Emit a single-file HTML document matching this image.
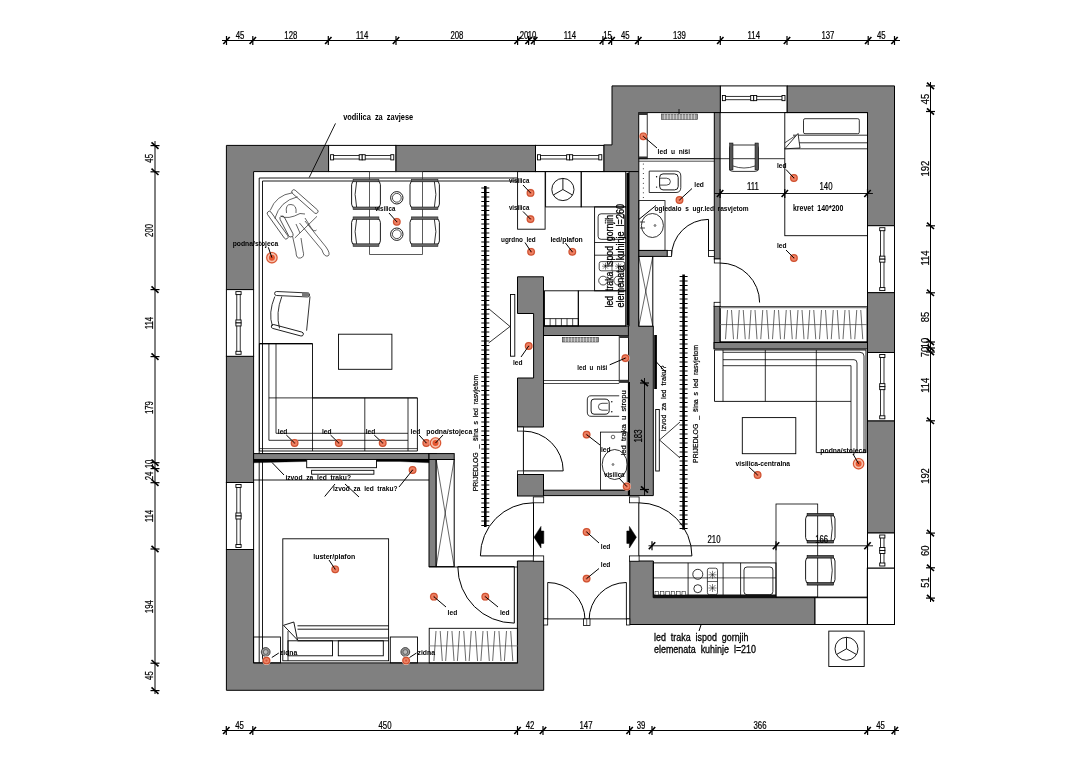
<!DOCTYPE html>
<html><head><meta charset="utf-8"><title>plan</title>
<style>
html,body{margin:0;padding:0;background:#fff;}
svg{display:block;will-change:transform;}
text{font-family:"Liberation Sans",sans-serif;}
.dm{fill:#000;stroke:#000;stroke-width:0.22;}
</style></head><body>
<svg width="1080" height="763" viewBox="0 0 1080 763">
<rect x="0" y="0" width="1080" height="763" fill="#fff"/>
<line x1="222" y1="40.5" x2="900" y2="40.5" stroke="#000" stroke-width="1.0" />
<line x1="223.3" y1="44" x2="229.7" y2="37" stroke="#000" stroke-width="1.6" />
<line x1="226.5" y1="36" x2="226.5" y2="45" stroke="#000" stroke-width="1.2" />
<line x1="249.6" y1="44" x2="256" y2="37" stroke="#000" stroke-width="1.6" />
<line x1="252.8" y1="36" x2="252.8" y2="45" stroke="#000" stroke-width="1.2" />
<line x1="325.1" y1="44" x2="331.5" y2="37" stroke="#000" stroke-width="1.6" />
<line x1="328.3" y1="36" x2="328.3" y2="45" stroke="#000" stroke-width="1.2" />
<line x1="392.8" y1="44" x2="399.2" y2="37" stroke="#000" stroke-width="1.6" />
<line x1="396" y1="36" x2="396" y2="45" stroke="#000" stroke-width="1.2" />
<line x1="514.4" y1="44" x2="520.8" y2="37" stroke="#000" stroke-width="1.6" />
<line x1="517.6" y1="36" x2="517.6" y2="45" stroke="#000" stroke-width="1.2" />
<line x1="525.4" y1="44" x2="531.8" y2="37" stroke="#000" stroke-width="1.6" />
<line x1="528.6" y1="36" x2="528.6" y2="45" stroke="#000" stroke-width="1.2" />
<line x1="531" y1="44" x2="537.4" y2="37" stroke="#000" stroke-width="1.6" />
<line x1="534.2" y1="36" x2="534.2" y2="45" stroke="#000" stroke-width="1.2" />
<line x1="599.7" y1="44" x2="606.1" y2="37" stroke="#000" stroke-width="1.6" />
<line x1="602.9" y1="36" x2="602.9" y2="45" stroke="#000" stroke-width="1.2" />
<line x1="608.4" y1="44" x2="614.8" y2="37" stroke="#000" stroke-width="1.6" />
<line x1="611.6" y1="36" x2="611.6" y2="45" stroke="#000" stroke-width="1.2" />
<line x1="635.1" y1="44" x2="641.5" y2="37" stroke="#000" stroke-width="1.6" />
<line x1="638.3" y1="36" x2="638.3" y2="45" stroke="#000" stroke-width="1.2" />
<line x1="717.1" y1="44" x2="723.5" y2="37" stroke="#000" stroke-width="1.6" />
<line x1="720.3" y1="36" x2="720.3" y2="45" stroke="#000" stroke-width="1.2" />
<line x1="783.8" y1="44" x2="790.2" y2="37" stroke="#000" stroke-width="1.6" />
<line x1="787" y1="36" x2="787" y2="45" stroke="#000" stroke-width="1.2" />
<line x1="865" y1="44" x2="871.4" y2="37" stroke="#000" stroke-width="1.6" />
<line x1="868.2" y1="36" x2="868.2" y2="45" stroke="#000" stroke-width="1.2" />
<line x1="891.3" y1="44" x2="897.7" y2="37" stroke="#000" stroke-width="1.6" />
<line x1="894.5" y1="36" x2="894.5" y2="45" stroke="#000" stroke-width="1.2" />
<text transform="translate(240,38.8) scale(0.78,1)" font-size="10" text-anchor="middle" font-weight="normal" fill="#000" class="dm">45</text>
<text transform="translate(290.8,38.8) scale(0.78,1)" font-size="10" text-anchor="middle" font-weight="normal" fill="#000" class="dm">128</text>
<text transform="translate(362.1,38.8) scale(0.78,1)" font-size="10" text-anchor="middle" font-weight="normal" fill="#000" class="dm">114</text>
<text transform="translate(456.9,38.8) scale(0.78,1)" font-size="10" text-anchor="middle" font-weight="normal" fill="#000" class="dm">208</text>
<text transform="translate(524,38.8) scale(0.78,1)" font-size="10" text-anchor="middle" font-weight="normal" fill="#000" class="dm">20</text>
<text transform="translate(532,38.8) scale(0.78,1)" font-size="10" text-anchor="middle" font-weight="normal" fill="#000" class="dm">10</text>
<text transform="translate(570,38.8) scale(0.78,1)" font-size="10" text-anchor="middle" font-weight="normal" fill="#000" class="dm">114</text>
<text transform="translate(607.5,38.8) scale(0.78,1)" font-size="10" text-anchor="middle" font-weight="normal" fill="#000" class="dm">15</text>
<text transform="translate(625.3,38.8) scale(0.78,1)" font-size="10" text-anchor="middle" font-weight="normal" fill="#000" class="dm">45</text>
<text transform="translate(679.4,38.8) scale(0.78,1)" font-size="10" text-anchor="middle" font-weight="normal" fill="#000" class="dm">139</text>
<text transform="translate(753.8,38.8) scale(0.78,1)" font-size="10" text-anchor="middle" font-weight="normal" fill="#000" class="dm">114</text>
<text transform="translate(827.9,38.8) scale(0.78,1)" font-size="10" text-anchor="middle" font-weight="normal" fill="#000" class="dm">137</text>
<text transform="translate(881.3,38.8) scale(0.78,1)" font-size="10" text-anchor="middle" font-weight="normal" fill="#000" class="dm">45</text>
<line x1="222" y1="730.5" x2="899" y2="730.5" stroke="#000" stroke-width="1.0" />
<line x1="223.1" y1="734" x2="229.5" y2="727" stroke="#000" stroke-width="1.6" />
<line x1="226.3" y1="726" x2="226.3" y2="735" stroke="#000" stroke-width="1.2" />
<line x1="249.6" y1="734" x2="256" y2="727" stroke="#000" stroke-width="1.6" />
<line x1="252.8" y1="726" x2="252.8" y2="735" stroke="#000" stroke-width="1.2" />
<line x1="514.3" y1="734" x2="520.7" y2="727" stroke="#000" stroke-width="1.6" />
<line x1="517.5" y1="726" x2="517.5" y2="735" stroke="#000" stroke-width="1.2" />
<line x1="539.8" y1="734" x2="546.2" y2="727" stroke="#000" stroke-width="1.6" />
<line x1="543" y1="726" x2="543" y2="735" stroke="#000" stroke-width="1.2" />
<line x1="626.4" y1="734" x2="632.8" y2="727" stroke="#000" stroke-width="1.6" />
<line x1="629.6" y1="726" x2="629.6" y2="735" stroke="#000" stroke-width="1.2" />
<line x1="648.8" y1="734" x2="655.2" y2="727" stroke="#000" stroke-width="1.6" />
<line x1="652" y1="726" x2="652" y2="735" stroke="#000" stroke-width="1.2" />
<line x1="864.4" y1="734" x2="870.8" y2="727" stroke="#000" stroke-width="1.6" />
<line x1="867.6" y1="726" x2="867.6" y2="735" stroke="#000" stroke-width="1.2" />
<line x1="891.6" y1="734" x2="898" y2="727" stroke="#000" stroke-width="1.6" />
<line x1="894.8" y1="726" x2="894.8" y2="735" stroke="#000" stroke-width="1.2" />
<text transform="translate(239.5,728.6) scale(0.78,1)" font-size="10" text-anchor="middle" font-weight="normal" fill="#000" class="dm">45</text>
<text transform="translate(385,728.6) scale(0.78,1)" font-size="10" text-anchor="middle" font-weight="normal" fill="#000" class="dm">450</text>
<text transform="translate(530,728.6) scale(0.78,1)" font-size="10" text-anchor="middle" font-weight="normal" fill="#000" class="dm">42</text>
<text transform="translate(586,728.6) scale(0.78,1)" font-size="10" text-anchor="middle" font-weight="normal" fill="#000" class="dm">147</text>
<text transform="translate(641,728.6) scale(0.78,1)" font-size="10" text-anchor="middle" font-weight="normal" fill="#000" class="dm">39</text>
<text transform="translate(760,728.6) scale(0.78,1)" font-size="10" text-anchor="middle" font-weight="normal" fill="#000" class="dm">366</text>
<text transform="translate(880.5,728.6) scale(0.78,1)" font-size="10" text-anchor="middle" font-weight="normal" fill="#000" class="dm">45</text>
<line x1="155" y1="141" x2="155" y2="694" stroke="#000" stroke-width="1.0" />
<line x1="151.5" y1="142.4" x2="158.5" y2="148.8" stroke="#000" stroke-width="1.6" />
<line x1="150.5" y1="145.6" x2="159.5" y2="145.6" stroke="#000" stroke-width="1.2" />
<line x1="151.5" y1="168.6" x2="158.5" y2="175" stroke="#000" stroke-width="1.6" />
<line x1="150.5" y1="171.8" x2="159.5" y2="171.8" stroke="#000" stroke-width="1.2" />
<line x1="151.5" y1="286.4" x2="158.5" y2="292.8" stroke="#000" stroke-width="1.6" />
<line x1="150.5" y1="289.6" x2="159.5" y2="289.6" stroke="#000" stroke-width="1.2" />
<line x1="151.5" y1="353.4" x2="158.5" y2="359.8" stroke="#000" stroke-width="1.6" />
<line x1="150.5" y1="356.6" x2="159.5" y2="356.6" stroke="#000" stroke-width="1.2" />
<line x1="151.5" y1="459.5" x2="158.5" y2="465.9" stroke="#000" stroke-width="1.6" />
<line x1="150.5" y1="462.7" x2="159.5" y2="462.7" stroke="#000" stroke-width="1.2" />
<line x1="151.5" y1="465.4" x2="158.5" y2="471.8" stroke="#000" stroke-width="1.6" />
<line x1="150.5" y1="468.6" x2="159.5" y2="468.6" stroke="#000" stroke-width="1.2" />
<line x1="151.5" y1="479.5" x2="158.5" y2="485.9" stroke="#000" stroke-width="1.6" />
<line x1="150.5" y1="482.7" x2="159.5" y2="482.7" stroke="#000" stroke-width="1.2" />
<line x1="151.5" y1="545.8" x2="158.5" y2="552.2" stroke="#000" stroke-width="1.6" />
<line x1="150.5" y1="549" x2="159.5" y2="549" stroke="#000" stroke-width="1.2" />
<line x1="151.5" y1="660" x2="158.5" y2="666.4" stroke="#000" stroke-width="1.6" />
<line x1="150.5" y1="663.2" x2="159.5" y2="663.2" stroke="#000" stroke-width="1.2" />
<line x1="151.5" y1="687.4" x2="158.5" y2="693.8" stroke="#000" stroke-width="1.6" />
<line x1="150.5" y1="690.6" x2="159.5" y2="690.6" stroke="#000" stroke-width="1.2" />
<text transform="translate(152.7,158.3) rotate(-90) scale(0.78,1)" font-size="10" text-anchor="middle" font-weight="normal" fill="#000" class="dm">45</text>
<text transform="translate(152.7,230.4) rotate(-90) scale(0.78,1)" font-size="10" text-anchor="middle" font-weight="normal" fill="#000" class="dm">200</text>
<text transform="translate(152.7,323) rotate(-90) scale(0.78,1)" font-size="10" text-anchor="middle" font-weight="normal" fill="#000" class="dm">114</text>
<text transform="translate(152.7,407.6) rotate(-90) scale(0.78,1)" font-size="10" text-anchor="middle" font-weight="normal" fill="#000" class="dm">179</text>
<text transform="translate(152.7,476) rotate(-90) scale(0.78,1)" font-size="10" text-anchor="middle" font-weight="normal" fill="#000" class="dm">24</text>
<text transform="translate(152.7,464) rotate(-90) scale(0.78,1)" font-size="10" text-anchor="middle" font-weight="normal" fill="#000" class="dm">10</text>
<text transform="translate(152.7,516) rotate(-90) scale(0.78,1)" font-size="10" text-anchor="middle" font-weight="normal" fill="#000" class="dm">114</text>
<text transform="translate(152.7,606.7) rotate(-90) scale(0.78,1)" font-size="10" text-anchor="middle" font-weight="normal" fill="#000" class="dm">194</text>
<text transform="translate(152.7,675.6) rotate(-90) scale(0.78,1)" font-size="10" text-anchor="middle" font-weight="normal" fill="#000" class="dm">45</text>
<line x1="930.5" y1="82" x2="930.5" y2="602" stroke="#000" stroke-width="1.0" />
<line x1="927" y1="82.7" x2="934" y2="89.1" stroke="#000" stroke-width="1.6" />
<line x1="926" y1="85.9" x2="935" y2="85.9" stroke="#000" stroke-width="1.2" />
<line x1="927" y1="108.3" x2="934" y2="114.7" stroke="#000" stroke-width="1.6" />
<line x1="926" y1="111.5" x2="935" y2="111.5" stroke="#000" stroke-width="1.2" />
<line x1="927" y1="222.6" x2="934" y2="229" stroke="#000" stroke-width="1.6" />
<line x1="926" y1="225.8" x2="935" y2="225.8" stroke="#000" stroke-width="1.2" />
<line x1="927" y1="289.6" x2="934" y2="296" stroke="#000" stroke-width="1.6" />
<line x1="926" y1="292.8" x2="935" y2="292.8" stroke="#000" stroke-width="1.2" />
<line x1="927" y1="338.8" x2="934" y2="345.2" stroke="#000" stroke-width="1.6" />
<line x1="926" y1="342" x2="935" y2="342" stroke="#000" stroke-width="1.2" />
<line x1="927" y1="344.8" x2="934" y2="351.2" stroke="#000" stroke-width="1.6" />
<line x1="926" y1="348" x2="935" y2="348" stroke="#000" stroke-width="1.2" />
<line x1="927" y1="348.8" x2="934" y2="355.2" stroke="#000" stroke-width="1.6" />
<line x1="926" y1="352" x2="935" y2="352" stroke="#000" stroke-width="1.2" />
<line x1="927" y1="417.6" x2="934" y2="424" stroke="#000" stroke-width="1.6" />
<line x1="926" y1="420.8" x2="935" y2="420.8" stroke="#000" stroke-width="1.2" />
<line x1="927" y1="529.9" x2="934" y2="536.3" stroke="#000" stroke-width="1.6" />
<line x1="926" y1="533.1" x2="935" y2="533.1" stroke="#000" stroke-width="1.2" />
<line x1="927" y1="564.6" x2="934" y2="571" stroke="#000" stroke-width="1.6" />
<line x1="926" y1="567.8" x2="935" y2="567.8" stroke="#000" stroke-width="1.2" />
<line x1="927" y1="594.9" x2="934" y2="601.3" stroke="#000" stroke-width="1.6" />
<line x1="926" y1="598.1" x2="935" y2="598.1" stroke="#000" stroke-width="1.2" />
<text transform="translate(929,98.9) rotate(-90) scale(0.8,1)" font-size="11.8" text-anchor="middle" font-weight="normal" fill="#000" class="dm">45</text>
<text transform="translate(929,168.7) rotate(-90) scale(0.8,1)" font-size="11.8" text-anchor="middle" font-weight="normal" fill="#000" class="dm">192</text>
<text transform="translate(929,258) rotate(-90) scale(0.8,1)" font-size="11.8" text-anchor="middle" font-weight="normal" fill="#000" class="dm">114</text>
<text transform="translate(929,317) rotate(-90) scale(0.8,1)" font-size="11.8" text-anchor="middle" font-weight="normal" fill="#000" class="dm">85</text>
<text transform="translate(929,352) rotate(-90) scale(0.8,1)" font-size="11.8" text-anchor="middle" font-weight="normal" fill="#000" class="dm">70</text>
<text transform="translate(929,343) rotate(-90) scale(0.8,1)" font-size="11.8" text-anchor="middle" font-weight="normal" fill="#000" class="dm">10</text>
<text transform="translate(929,385.3) rotate(-90) scale(0.8,1)" font-size="11.8" text-anchor="middle" font-weight="normal" fill="#000" class="dm">114</text>
<text transform="translate(929,476) rotate(-90) scale(0.8,1)" font-size="11.8" text-anchor="middle" font-weight="normal" fill="#000" class="dm">192</text>
<text transform="translate(929,550.8) rotate(-90) scale(0.8,1)" font-size="11.8" text-anchor="middle" font-weight="normal" fill="#000" class="dm">60</text>
<text transform="translate(929,582.4) rotate(-90) scale(0.8,1)" font-size="11.8" text-anchor="middle" font-weight="normal" fill="#000" class="dm">51</text>
<polygon points="226.4,145.4 328.6,145.4 328.6,171.6 253.6,171.6 253.6,289.6 226.4,289.6" fill="#808080" stroke="#000" stroke-width="1.0"/>
<rect x="226.4" y="356.3" width="27.2" height="126.2" fill="#808080" stroke="#000" stroke-width="1.0" />
<polygon points="226.4,549.5 253.6,549.5 253.6,662.9 517.4,662.9 517.4,561 543.7,561 543.7,690.3 226.4,690.3" fill="#808080" stroke="#000" stroke-width="1.0"/>
<rect x="395.8" y="145.4" width="139.7" height="26.2" fill="#808080" stroke="#000" stroke-width="1.0" />
<polygon points="603.8,144.9 612,144.9 612,85.9 720.4,85.9 720.4,112.6 638.8,112.6 638.8,171.6 603.8,171.6" fill="#808080" stroke="#000" stroke-width="1.0"/>
<polygon points="787,85.9 894.5,85.9 894.5,225.7 867.5,225.7 867.5,112.6 787,112.6" fill="#808080" stroke="#000" stroke-width="1.0"/>
<rect x="867.5" y="292.6" width="27" height="59.9" fill="#808080" stroke="#000" stroke-width="1.0" />
<rect x="867.5" y="420.8" width="27" height="112.2" fill="#808080" stroke="#000" stroke-width="1.0" />
<polygon points="629.8,561 653.4,561 653.4,597.7 815,597.7 815,624.5 629.8,624.5" fill="#808080" stroke="#000" stroke-width="1.0"/>
<rect x="815" y="597.7" width="79.5" height="26.8" fill="#fff" stroke="#000" stroke-width="1" />
<line x1="867.4" y1="568" x2="867.4" y2="624.5" stroke="#000" stroke-width="1.0" />
<rect x="867.4" y="568" width="27.1" height="56.5" fill="#fff" stroke="#000" stroke-width="1" />
<rect x="328.6" y="145.4" width="67.2" height="26.2" fill="#fff" stroke="#000" stroke-width="1" />
<rect x="331.6" y="155.6" width="61.2" height="3.4" fill="#fff" stroke="#000" stroke-width="0.8" />
<rect x="330.6" y="154.7" width="3" height="5.2" fill="#fff" stroke="#000" stroke-width="0.9" />
<rect x="359.2" y="154.7" width="3" height="5.2" fill="#fff" stroke="#000" stroke-width="0.9" />
<rect x="362.2" y="154.7" width="3" height="5.2" fill="#fff" stroke="#000" stroke-width="0.9" />
<rect x="390.8" y="154.7" width="3" height="5.2" fill="#fff" stroke="#000" stroke-width="0.9" />
<rect x="535.5" y="145.4" width="68.3" height="26.2" fill="#fff" stroke="#000" stroke-width="1" />
<rect x="538.5" y="155.6" width="62.3" height="3.4" fill="#fff" stroke="#000" stroke-width="0.8" />
<rect x="537.5" y="154.7" width="3" height="5.2" fill="#fff" stroke="#000" stroke-width="0.9" />
<rect x="566.65" y="154.7" width="3" height="5.2" fill="#fff" stroke="#000" stroke-width="0.9" />
<rect x="569.65" y="154.7" width="3" height="5.2" fill="#fff" stroke="#000" stroke-width="0.9" />
<rect x="598.8" y="154.7" width="3" height="5.2" fill="#fff" stroke="#000" stroke-width="0.9" />
<rect x="720.4" y="85.9" width="66.6" height="26.7" fill="#fff" stroke="#000" stroke-width="1" />
<rect x="723.4" y="96.35" width="60.6" height="3.4" fill="#fff" stroke="#000" stroke-width="0.8" />
<rect x="722.4" y="95.45" width="3" height="5.2" fill="#fff" stroke="#000" stroke-width="0.9" />
<rect x="750.7" y="95.45" width="3" height="5.2" fill="#fff" stroke="#000" stroke-width="0.9" />
<rect x="753.7" y="95.45" width="3" height="5.2" fill="#fff" stroke="#000" stroke-width="0.9" />
<rect x="782" y="95.45" width="3" height="5.2" fill="#fff" stroke="#000" stroke-width="0.9" />
<rect x="226.4" y="289.6" width="27.2" height="66.7" fill="#fff" stroke="#000" stroke-width="1" />
<rect x="236.8" y="292.6" width="3.4" height="60.7" fill="#fff" stroke="#000" stroke-width="0.8" />
<rect x="235.9" y="291.6" width="5.2" height="3" fill="#fff" stroke="#000" stroke-width="0.9" />
<rect x="235.9" y="319.95" width="5.2" height="3" fill="#fff" stroke="#000" stroke-width="0.9" />
<rect x="235.9" y="322.95" width="5.2" height="3" fill="#fff" stroke="#000" stroke-width="0.9" />
<rect x="235.9" y="351.3" width="5.2" height="3" fill="#fff" stroke="#000" stroke-width="0.9" />
<rect x="226.4" y="482.5" width="27.2" height="67" fill="#fff" stroke="#000" stroke-width="1" />
<rect x="236.8" y="485.5" width="3.4" height="61" fill="#fff" stroke="#000" stroke-width="0.8" />
<rect x="235.9" y="484.5" width="5.2" height="3" fill="#fff" stroke="#000" stroke-width="0.9" />
<rect x="235.9" y="513" width="5.2" height="3" fill="#fff" stroke="#000" stroke-width="0.9" />
<rect x="235.9" y="516" width="5.2" height="3" fill="#fff" stroke="#000" stroke-width="0.9" />
<rect x="235.9" y="544.5" width="5.2" height="3" fill="#fff" stroke="#000" stroke-width="0.9" />
<rect x="867.5" y="225.7" width="27" height="66.9" fill="#fff" stroke="#000" stroke-width="1" />
<rect x="880.6" y="228.7" width="3.4" height="60.9" fill="#fff" stroke="#000" stroke-width="0.8" />
<rect x="879.7" y="227.7" width="5.2" height="3" fill="#fff" stroke="#000" stroke-width="0.9" />
<rect x="879.7" y="256.15" width="5.2" height="3" fill="#fff" stroke="#000" stroke-width="0.9" />
<rect x="879.7" y="259.15" width="5.2" height="3" fill="#fff" stroke="#000" stroke-width="0.9" />
<rect x="879.7" y="287.6" width="5.2" height="3" fill="#fff" stroke="#000" stroke-width="0.9" />
<rect x="867.5" y="352.5" width="27" height="68.3" fill="#fff" stroke="#000" stroke-width="1" />
<rect x="880.6" y="355.5" width="3.4" height="62.3" fill="#fff" stroke="#000" stroke-width="0.8" />
<rect x="879.7" y="354.5" width="5.2" height="3" fill="#fff" stroke="#000" stroke-width="0.9" />
<rect x="879.7" y="383.65" width="5.2" height="3" fill="#fff" stroke="#000" stroke-width="0.9" />
<rect x="879.7" y="386.65" width="5.2" height="3" fill="#fff" stroke="#000" stroke-width="0.9" />
<rect x="879.7" y="415.8" width="5.2" height="3" fill="#fff" stroke="#000" stroke-width="0.9" />
<rect x="867.5" y="533" width="27" height="35" fill="#fff" stroke="#000" stroke-width="1" />
<rect x="880.6" y="536" width="3.4" height="29" fill="#fff" stroke="#000" stroke-width="0.8" />
<rect x="879.7" y="535" width="5.2" height="3" fill="#fff" stroke="#000" stroke-width="0.9" />
<rect x="879.7" y="547.5" width="5.2" height="3" fill="#fff" stroke="#000" stroke-width="0.9" />
<rect x="879.7" y="550.5" width="5.2" height="3" fill="#fff" stroke="#000" stroke-width="0.9" />
<rect x="879.7" y="563" width="5.2" height="3" fill="#fff" stroke="#000" stroke-width="0.9" />
<rect x="253.6" y="453.6" width="182.6" height="5.9" fill="#808080" stroke="#000" stroke-width="1.0" />
<rect x="429" y="453.6" width="7.2" height="113" fill="#808080" stroke="#000" stroke-width="1.0" />
<rect x="436.2" y="459.5" width="18" height="107.1" fill="#fff" stroke="#000" stroke-width="1" />
<line x1="436.2" y1="459.5" x2="454.2" y2="566.6" stroke="#000" stroke-width="0.6" />
<line x1="454.2" y1="459.5" x2="436.2" y2="566.6" stroke="#000" stroke-width="0.6" />
<rect x="429" y="453.6" width="25.2" height="5.9" fill="#808080" stroke="#000" stroke-width="1.0" />
<polygon points="517.5,276.8 543.5,276.8 543.5,427 517.5,427 517.5,378 533.6,378 533.6,313.5 517.5,313.5" fill="#808080" stroke="#000" stroke-width="1.0"/>
<rect x="517.5" y="474.5" width="26" height="21.5" fill="#808080" stroke="#000" stroke-width="1.0" />
<rect x="543.5" y="326" width="86.5" height="9.5" fill="#808080" stroke="#000" stroke-width="1.0" />
<rect x="543.5" y="490.2" width="86.5" height="5.4" fill="#808080" stroke="#000" stroke-width="1.0" />
<polygon points="629,171.6 638.8,171.6 638.8,326.2 653.3,326.2 653.3,495.6 628.4,495.6 628.4,326.2 629,326.2" fill="#808080" stroke="#000" stroke-width="1.0"/>
<rect x="626.4" y="172.8" width="2.6" height="152.6" fill="#000" stroke="none" stroke-width="0" />
<rect x="628" y="382" width="2" height="113" fill="#000" stroke="none" stroke-width="0" />
<rect x="638.8" y="256.4" width="14" height="69.8" fill="#fff" stroke="#000" stroke-width="1" />
<line x1="638.8" y1="256.4" x2="652.8" y2="326.2" stroke="#000" stroke-width="0.6" />
<line x1="652.8" y1="256.4" x2="638.8" y2="326.2" stroke="#000" stroke-width="0.6" />
<rect x="638.8" y="250.4" width="28.5" height="6" fill="#808080" stroke="#000" stroke-width="1.0" />
<rect x="714.3" y="112.6" width="5.8" height="146.4" fill="#808080" stroke="#000" stroke-width="1.0" />
<rect x="714.1" y="306.3" width="6" height="42.1" fill="#808080" stroke="#000" stroke-width="1.0" />
<rect x="714.1" y="342.5" width="153.4" height="6.5" fill="#808080" stroke="#000" stroke-width="1.0" />
<path d="M259.2,453.6 L259.2,178 L517.6,178" stroke="#000" stroke-width="0.9" fill="none" />
<path d="M262.5,453.6 L262.5,181 L517.6,181" stroke="#000" stroke-width="0.9" fill="none" />
<line x1="259.2" y1="459.5" x2="259.2" y2="662.9" stroke="#000" stroke-width="0.9" />
<line x1="262.5" y1="459.5" x2="262.5" y2="662.9" stroke="#000" stroke-width="0.9" />
<line x1="335.5" y1="123.4" x2="309.2" y2="177.5" stroke="#000" stroke-width="0.9" />
<rect x="369.6" y="171.6" width="52.8" height="82.9" fill="none" stroke="#333" stroke-width="0.8" />
<rect x="351.6" y="180.7" width="28.8" height="27.4" fill="none" stroke="#000" stroke-width="0.9" rx="4"/>
<rect x="353.1" y="179.2" width="25.8" height="2.6" fill="#666" stroke="#222" stroke-width="0.6" />
<rect x="353.1" y="207" width="25.8" height="2.6" fill="#666" stroke="#222" stroke-width="0.6" />
<path d="M356.6,181.8 Q353.6,194.4 356.6,207" stroke="#000" stroke-width="0.8" fill="none" />
<rect x="351.6" y="218.4" width="28.8" height="26.5" fill="none" stroke="#000" stroke-width="0.9" rx="4"/>
<rect x="353.1" y="216.9" width="25.8" height="2.6" fill="#666" stroke="#222" stroke-width="0.6" />
<rect x="353.1" y="243.8" width="25.8" height="2.6" fill="#666" stroke="#222" stroke-width="0.6" />
<path d="M356.6,219.5 Q353.6,231.65 356.6,243.8" stroke="#000" stroke-width="0.8" fill="none" />
<rect x="410" y="180.7" width="29.4" height="27.4" fill="none" stroke="#000" stroke-width="0.9" rx="4"/>
<rect x="411.5" y="179.2" width="26.4" height="2.6" fill="#666" stroke="#222" stroke-width="0.6" />
<rect x="411.5" y="207" width="26.4" height="2.6" fill="#666" stroke="#222" stroke-width="0.6" />
<path d="M434.4,181.8 Q437.4,194.4 434.4,207" stroke="#000" stroke-width="0.8" fill="none" />
<rect x="410" y="218.4" width="29.4" height="26.5" fill="none" stroke="#000" stroke-width="0.9" rx="4"/>
<rect x="411.5" y="216.9" width="26.4" height="2.6" fill="#666" stroke="#222" stroke-width="0.6" />
<rect x="411.5" y="243.8" width="26.4" height="2.6" fill="#666" stroke="#222" stroke-width="0.6" />
<path d="M434.4,219.5 Q437.4,231.65 434.4,243.8" stroke="#000" stroke-width="0.8" fill="none" />
<circle cx="396.8" cy="197.8" r="6.2" fill="none" stroke="#000" stroke-width="0.9"/>
<circle cx="396.8" cy="197.8" r="4.4" fill="none" stroke="#000" stroke-width="0.7"/>
<circle cx="396.8" cy="234.2" r="6.2" fill="none" stroke="#000" stroke-width="0.9"/>
<circle cx="396.8" cy="234.2" r="4.4" fill="none" stroke="#000" stroke-width="0.7"/>
<g fill="none" stroke="#222" stroke-width="0.7" stroke-linejoin="round"><path d="M270.2,210.5 Q276,195 292.5,192.8"/><path d="M274.8,218.5 Q280,201 297.5,196.8"/><rect x="0" y="-2.1" width="33" height="4.2" rx="2" transform="translate(268.1,211.7) rotate(54.5)"/><rect x="0" y="-2.1" width="33.6" height="4.2" rx="2" transform="translate(292.3,190.5) rotate(41.4)"/><path d="M317,216.3 L294.8,238"/><path d="M286.5,213 Q285,204 291,204.5 Q297,205 296,213"/><path d="M280.5,216 Q288,220 300,213.5 L305,214"/><rect x="0" y="-2.4" width="23" height="4.8" rx="2.4" transform="translate(281.2,216.3) rotate(62.5)"/><path d="M296,224 L300,233 M305,218 L310,226 Q314,233 316.5,230"/><path d="M292.5,236 L296,252 Q296,259 300.5,258 Q305,257 303,251 L301,238"/><path d="M299.5,223 L322,250 Q324,257 328,256 Q331,254 326,247 L305,221"/></g>
<g fill="none" stroke="#000" stroke-width="0.8" stroke-linejoin="round"><path d="M274.8,296.5 Q268,313 272.4,326"/><path d="M281.8,296.5 Q275.5,313 279.5,328.3"/><path d="M310,296.5 L306.6,330.7"/><rect x="0" y="-2" width="35" height="4" rx="2" transform="translate(274.6,293.4) rotate(2.7)"/><rect x="0" y="-2" width="33" height="4" rx="2" transform="translate(271.4,326) rotate(15)"/></g>
<rect x="302" y="292.5" width="7" height="4" fill="#777" stroke="none" stroke-width="0" />
<rect x="338.5" y="334.2" width="53.4" height="35.1" fill="none" stroke="#000" stroke-width="0.9" />
<path d="M259.4,343.7 H312.5 V397.9 H417.4 V451 H259.4 Z" stroke="#000" stroke-width="0.9" fill="none" />
<line x1="259.4" y1="343.7" x2="312.5" y2="343.7" stroke="#000" stroke-width="1.3" />
<path d="M268.9,343.7 V440.3 H408" stroke="#000" stroke-width="0.8" fill="none" />
<path d="M276,343.7 V433.3 H408" stroke="#000" stroke-width="0.8" fill="none" />
<line x1="268.9" y1="397.9" x2="417.4" y2="397.9" stroke="#000" stroke-width="0.8" />
<line x1="312.5" y1="397.9" x2="312.5" y2="451" stroke="#000" stroke-width="0.8" />
<line x1="364.8" y1="397.9" x2="364.8" y2="451" stroke="#000" stroke-width="0.8" />
<line x1="408" y1="397.9" x2="408" y2="451" stroke="#000" stroke-width="0.8" />
<line x1="259.4" y1="448.6" x2="417.4" y2="448.6" stroke="#000" stroke-width="0.7" />
<line x1="485.3" y1="186" x2="485.3" y2="527" stroke="#000" stroke-width="2.6" />
<path d="M481.3,188H489.3M481.3,192.5H489.3M481.3,197H489.3M481.3,201.5H489.3M481.3,206H489.3M481.3,210.5H489.3M481.3,215H489.3M481.3,219.5H489.3M481.3,224H489.3M481.3,228.5H489.3M481.3,233H489.3M481.3,237.5H489.3M481.3,242H489.3M481.3,246.5H489.3M481.3,251H489.3M481.3,255.5H489.3M481.3,260H489.3M481.3,264.5H489.3M481.3,269H489.3M481.3,273.5H489.3M481.3,278H489.3M481.3,282.5H489.3M481.3,287H489.3M481.3,291.5H489.3M481.3,296H489.3M481.3,300.5H489.3M481.3,305H489.3M481.3,309.5H489.3M481.3,314H489.3M481.3,318.5H489.3M481.3,323H489.3M481.3,327.5H489.3M481.3,332H489.3M481.3,336.5H489.3M481.3,341H489.3M481.3,345.5H489.3M481.3,350H489.3M481.3,354.5H489.3M481.3,359H489.3M481.3,363.5H489.3M481.3,368H489.3M481.3,372.5H489.3M481.3,377H489.3M481.3,381.5H489.3M481.3,386H489.3M481.3,390.5H489.3M481.3,395H489.3M481.3,399.5H489.3M481.3,404H489.3M481.3,408.5H489.3M481.3,413H489.3M481.3,417.5H489.3M481.3,422H489.3M481.3,426.5H489.3M481.3,431H489.3M481.3,435.5H489.3M481.3,440H489.3M481.3,444.5H489.3M481.3,449H489.3M481.3,453.5H489.3M481.3,458H489.3M481.3,462.5H489.3M481.3,467H489.3M481.3,471.5H489.3M481.3,476H489.3M481.3,480.5H489.3M481.3,485H489.3M481.3,489.5H489.3M481.3,494H489.3M481.3,498.5H489.3M481.3,503H489.3M481.3,507.5H489.3M481.3,512H489.3M481.3,516.5H489.3M481.3,521H489.3M481.3,525.5H489.3" stroke="#000" stroke-width="1.2" fill="none" />
<rect x="510.5" y="294.5" width="4.3" height="61.7" fill="#fff" stroke="#000" stroke-width="0.9" />
<path d="M488.6,308.6 L510,326.5 L488.6,343" stroke="#000" stroke-width="0.8" fill="none" />
<line x1="253.6" y1="480" x2="429" y2="480" stroke="#000" stroke-width="0.9" />
<path d="M253.6,459.4 L429,459.4 L429,462.8 L400,461.5 L306,461.5 L253.6,462.8 Z" stroke="#000" stroke-width="0.3" fill="#000" />
<rect x="306.7" y="459.5" width="69.8" height="8.2" fill="#fff" stroke="#000" stroke-width="0.9" />
<rect x="311.6" y="470.3" width="62.3" height="3.9" fill="#fff" stroke="#000" stroke-width="0.9" />
<rect x="282.8" y="538.8" width="105.8" height="122" fill="none" stroke="#000" stroke-width="0.9" />
<line x1="297.5" y1="625.8" x2="388.6" y2="625.8" stroke="#000" stroke-width="0.9" />
<line x1="297.5" y1="629.2" x2="388.6" y2="629.2" stroke="#000" stroke-width="0.9" />
<line x1="297.5" y1="638" x2="388.6" y2="638" stroke="#000" stroke-width="0.9" />
<line x1="297.5" y1="640.8" x2="388.6" y2="640.8" stroke="#000" stroke-width="0.9" />
<path d="M283.5,625.3 L293.8,622 L297.5,640 Z" stroke="#000" stroke-width="0.9" fill="#fff" />
<line x1="288" y1="631" x2="288" y2="660.8" stroke="#000" stroke-width="0.8" />
<rect x="288" y="640.8" width="44.5" height="15" fill="none" stroke="#000" stroke-width="0.9" />
<rect x="338.3" y="640.8" width="45" height="15" fill="none" stroke="#000" stroke-width="0.9" />
<rect x="253.6" y="637" width="26.9" height="25.9" fill="none" stroke="#000" stroke-width="0.9" />
<rect x="390.3" y="637" width="27.2" height="25.9" fill="none" stroke="#000" stroke-width="0.9" />
<rect x="429.2" y="628.3" width="88.4" height="34.7" fill="none" stroke="#000" stroke-width="0.9" />
<line x1="429.2" y1="645.9" x2="517.6" y2="645.9" stroke="#777" stroke-width="0.9" />
<path d="M436,631 L433.9,661 M440.2,631 L442.3,661 M447.75,631 L445.65,661 M451.95,631 L454.05,661 M459.5,631 L457.4,661 M463.7,631 L465.8,661 M471.25,631 L469.15,661 M475.45,631 L477.55,661 M483,631 L480.9,661 M487.2,631 L489.3,661 M494.75,631 L492.65,661 M498.95,631 L501.05,661 M506.5,631 L504.4,661 M510.7,631 L512.8,661 " stroke="#444" stroke-width="0.8" fill="none" />
<path d="M533.5,502.8 A53.1,53.1 0 0 0 480.4,555.9 L533.5,555.9 Z" stroke="#000" stroke-width="1.0" fill="none" />
<path d="M638.8,502.8 A53.1,53.1 0 0 1 691.9,555.9 L638.8,555.9 Z" stroke="#000" stroke-width="1.0" fill="none" />
<path d="M457.8,566.6 A56.5,56.5 0 0 0 514.3,623.1 L514.3,566.6 Z" stroke="#000" stroke-width="1.0" fill="none" />
<line x1="429" y1="567" x2="517.4" y2="567" stroke="#000" stroke-width="0.9" />
<path d="M523.4,431.1 A39.8,39.8 0 0 1 563.2,470.9 L523.4,470.9 Z" stroke="#000" stroke-width="1.0" fill="none" />
<rect x="517.5" y="427" width="5.9" height="4.1" fill="#fff" stroke="#000" stroke-width="0.8" />
<rect x="517.5" y="470.9" width="5.9" height="3.6" fill="#fff" stroke="#000" stroke-width="0.8" />
<path d="M547.7,582.5 A37.3,37.3 0 0 1 585,619.8" stroke="#000" stroke-width="1.0" fill="none" />
<line x1="547.7" y1="582.5" x2="547.7" y2="619.8" stroke="#000" stroke-width="0.9" />
<path d="M626.4,582.5 A37.3,37.3 0 0 0 589.1,619.8" stroke="#000" stroke-width="1.0" fill="none" />
<line x1="626.4" y1="582.5" x2="626.4" y2="619.8" stroke="#000" stroke-width="0.9" />
<line x1="543.7" y1="618.9" x2="629.8" y2="618.9" stroke="#000" stroke-width="0.9" />
<rect x="583.5" y="618.9" width="6.5" height="6.5" fill="#fff" stroke="#000" stroke-width="0.8" />
<line x1="586.7" y1="618.9" x2="586.7" y2="625.4" stroke="#000" stroke-width="0.6" />
<path d="M534,537.2 L541,526.4 L541,531 L543.8,531 L543.8,543.4 L541,543.4 L541,548 Z" stroke="#000" stroke-width="0.5" fill="#000" />
<path d="M636.4,537.2 L629.4,526.4 L629.4,531 L626.8,531 L626.8,543.4 L629.4,543.4 L629.4,548 Z" stroke="#000" stroke-width="0.5" fill="#000" />
<rect x="533.3" y="496.9" width="10.4" height="5.9" fill="#fff" stroke="#000" stroke-width="0.8" />
<rect x="629.6" y="496.9" width="9.5" height="5.9" fill="#fff" stroke="#000" stroke-width="0.8" />
<rect x="533.3" y="555.9" width="10.4" height="5.3" fill="#fff" stroke="#000" stroke-width="0.8" />
<rect x="629.6" y="555.9" width="9.5" height="5.3" fill="#fff" stroke="#000" stroke-width="0.8" />
<rect x="543.7" y="618.9" width="4" height="6.1" fill="#fff" stroke="#000" stroke-width="0.8" />
<rect x="626.4" y="618.9" width="3.4" height="6.1" fill="#fff" stroke="#000" stroke-width="0.8" />
<rect x="517.6" y="171.6" width="27.5" height="57.6" fill="none" stroke="#000" stroke-width="0.9" />
<rect x="545.6" y="171.6" width="35.6" height="35.3" fill="none" stroke="#000" stroke-width="0.9" />
<circle cx="562.9" cy="189.5" r="11.1" fill="none" stroke="#000" stroke-width="0.9"/>
<path d="M562.9,189.5 V178.4 M562.9,189.5 L553.3,195 M562.9,189.5 L572.5,195" stroke="#000" stroke-width="0.9" fill="none" />
<rect x="581.2" y="171.6" width="44.5" height="35.3" fill="none" stroke="#000" stroke-width="0.9" />
<rect x="594.6" y="206.9" width="31.1" height="83.9" fill="none" stroke="#000" stroke-width="0.9" />
<line x1="594.6" y1="242.5" x2="625.7" y2="242.5" stroke="#000" stroke-width="0.8" />
<line x1="594.6" y1="255.2" x2="625.7" y2="255.2" stroke="#000" stroke-width="0.8" />
<rect x="598.1" y="213.8" width="26.6" height="25.5" fill="none" stroke="#000" stroke-width="0.8" rx="3"/>
<rect x="599.2" y="261.6" width="25.5" height="9.2" fill="none" stroke="#000" stroke-width="0.7" rx="2"/>
<path d="M602,266.2 H609 M605.5,262.8 V269.6 M603,263.7 L608,268.7 M608,263.7 L603,268.7" stroke="#000" stroke-width="0.5" fill="none" />
<path d="M615,266.2 H622 M618.5,262.8 V269.6 M616,263.7 L621,268.7 M621,263.7 L616,268.7" stroke="#000" stroke-width="0.5" fill="none" />
<line x1="612" y1="261.6" x2="612" y2="270.8" stroke="#000" stroke-width="0.6" />
<circle cx="603.1" cy="280.6" r="4.4" fill="none" stroke="#000" stroke-width="0.7"/>
<circle cx="618.2" cy="280.6" r="4.4" fill="none" stroke="#000" stroke-width="0.7"/>
<rect x="544.5" y="290.8" width="33.8" height="35.2" fill="none" stroke="#000" stroke-width="0.9" />
<rect x="578.3" y="290.8" width="47.4" height="35.2" fill="none" stroke="#000" stroke-width="0.9" />
<rect x="544.5" y="318.7" width="33.8" height="7.3" fill="none" stroke="#000" stroke-width="0.8" />
<line x1="550.13" y1="318.7" x2="550.13" y2="326" stroke="#000" stroke-width="0.7" />
<line x1="555.77" y1="318.7" x2="555.77" y2="326" stroke="#000" stroke-width="0.7" />
<line x1="561.4" y1="318.7" x2="561.4" y2="326" stroke="#000" stroke-width="0.7" />
<line x1="567.03" y1="318.7" x2="567.03" y2="326" stroke="#000" stroke-width="0.7" />
<line x1="572.67" y1="318.7" x2="572.67" y2="326" stroke="#000" stroke-width="0.7" />
<line x1="543.5" y1="380.5" x2="619.2" y2="380.5" stroke="#000" stroke-width="0.7" />
<line x1="543.5" y1="383.5" x2="619.2" y2="383.5" stroke="#000" stroke-width="0.7" />
<rect x="562.4" y="337.4" width="36.1" height="4.6" fill="#999" stroke="#333" stroke-width="0.6" />
<line x1="565.41" y1="337.4" x2="565.41" y2="342" stroke="#fff" stroke-width="0.5" />
<line x1="568.42" y1="337.4" x2="568.42" y2="342" stroke="#fff" stroke-width="0.5" />
<line x1="571.42" y1="337.4" x2="571.42" y2="342" stroke="#fff" stroke-width="0.5" />
<line x1="574.43" y1="337.4" x2="574.43" y2="342" stroke="#fff" stroke-width="0.5" />
<line x1="577.44" y1="337.4" x2="577.44" y2="342" stroke="#fff" stroke-width="0.5" />
<line x1="580.45" y1="337.4" x2="580.45" y2="342" stroke="#fff" stroke-width="0.5" />
<line x1="583.46" y1="337.4" x2="583.46" y2="342" stroke="#fff" stroke-width="0.5" />
<line x1="586.47" y1="337.4" x2="586.47" y2="342" stroke="#fff" stroke-width="0.5" />
<line x1="589.48" y1="337.4" x2="589.48" y2="342" stroke="#fff" stroke-width="0.5" />
<line x1="592.48" y1="337.4" x2="592.48" y2="342" stroke="#fff" stroke-width="0.5" />
<line x1="595.49" y1="337.4" x2="595.49" y2="342" stroke="#fff" stroke-width="0.5" />
<rect x="619.2" y="335.5" width="9.2" height="46.8" fill="#fff" stroke="#000" stroke-width="0.8" />
<rect x="619.2" y="335.5" width="9.2" height="2.5" fill="#333" stroke="none" stroke-width="0" />
<rect x="619.2" y="379.8" width="9.2" height="2.5" fill="#333" stroke="none" stroke-width="0" />
<path d="M619.2,395.8 H591 Q587.3,395.8 587.3,400 V412 Q587.3,416.3 591,416.3 H619.2" stroke="#000" stroke-width="0.8" fill="none" />
<path d="M594,399.1 H605 Q609.2,399.1 609.2,403 V410.5 Q609.2,414.2 605,414.2 H594 Q591.1,414.2 591.1,411 V402 Q591.1,399.1 594,399.1 Z" stroke="#000" stroke-width="0.9" fill="none" />
<path d="M607.8,403.3 H602 Q598.4,403.3 598.4,406.7 Q598.4,410.2 602,410.2 H607.8" stroke="#000" stroke-width="0.7" fill="none" />
<circle cx="611.8" cy="401.7" r="0.7" fill="#000" stroke="#000" stroke-width="0"/>
<circle cx="611.8" cy="411.8" r="0.7" fill="#000" stroke="#000" stroke-width="0"/>
<rect x="600.5" y="432.1" width="26.7" height="58.1" fill="none" stroke="#000" stroke-width="0.8" />
<ellipse cx="614.7" cy="464.5" rx="12.5" ry="15" fill="none" stroke="#000" stroke-width="0.8"/>
<circle cx="613" cy="464.5" r="0.9" fill="none" stroke="#000" stroke-width="0.6"/>
<circle cx="613" cy="437" r="1.8" fill="none" stroke="#000" stroke-width="0.6"/>
<line x1="638.8" y1="158.7" x2="714.3" y2="158.7" stroke="#000" stroke-width="0.7" />
<line x1="638.8" y1="161.2" x2="714.3" y2="161.2" stroke="#000" stroke-width="0.7" />
<rect x="638.8" y="112.6" width="8.4" height="46.1" fill="#fff" stroke="#000" stroke-width="0.8" />
<rect x="638.8" y="112.6" width="8.4" height="2.4" fill="#333" stroke="none" stroke-width="0" />
<rect x="638.8" y="156.5" width="8.4" height="2.2" fill="#333" stroke="none" stroke-width="0" />
<rect x="661.6" y="114" width="35.9" height="5.3" fill="#999" stroke="#333" stroke-width="0.6" />
<line x1="664.59" y1="114" x2="664.59" y2="119.3" stroke="#fff" stroke-width="0.5" />
<line x1="667.58" y1="114" x2="667.58" y2="119.3" stroke="#fff" stroke-width="0.5" />
<line x1="670.58" y1="114" x2="670.58" y2="119.3" stroke="#fff" stroke-width="0.5" />
<line x1="673.57" y1="114" x2="673.57" y2="119.3" stroke="#fff" stroke-width="0.5" />
<line x1="676.56" y1="114" x2="676.56" y2="119.3" stroke="#fff" stroke-width="0.5" />
<line x1="679.55" y1="114" x2="679.55" y2="119.3" stroke="#fff" stroke-width="0.5" />
<line x1="682.54" y1="114" x2="682.54" y2="119.3" stroke="#fff" stroke-width="0.5" />
<line x1="685.53" y1="114" x2="685.53" y2="119.3" stroke="#fff" stroke-width="0.5" />
<line x1="688.52" y1="114" x2="688.52" y2="119.3" stroke="#fff" stroke-width="0.5" />
<line x1="691.52" y1="114" x2="691.52" y2="119.3" stroke="#fff" stroke-width="0.5" />
<line x1="694.51" y1="114" x2="694.51" y2="119.3" stroke="#fff" stroke-width="0.5" />
<line x1="679" y1="109" x2="679" y2="114" stroke="#000" stroke-width="0.8" />
<circle cx="643.3" cy="164" r="0.5" fill="#000" stroke="#000" stroke-width="0"/>
<circle cx="643.3" cy="168.8" r="0.5" fill="#000" stroke="#000" stroke-width="0"/>
<circle cx="643.3" cy="173.6" r="0.5" fill="#000" stroke="#000" stroke-width="0"/>
<circle cx="643.3" cy="178.4" r="0.5" fill="#000" stroke="#000" stroke-width="0"/>
<circle cx="643.3" cy="183.2" r="0.5" fill="#000" stroke="#000" stroke-width="0"/>
<circle cx="643.3" cy="188" r="0.5" fill="#000" stroke="#000" stroke-width="0"/>
<circle cx="643.3" cy="192.8" r="0.5" fill="#000" stroke="#000" stroke-width="0"/>
<circle cx="643.3" cy="197.6" r="0.5" fill="#000" stroke="#000" stroke-width="0"/>
<path d="M649.2,171.1 H676 Q680.8,171.1 680.8,176 V187.5 Q680.8,192.5 676,192.5 H649.2 Z" stroke="#000" stroke-width="0.8" fill="none" />
<path d="M663,173.9 H674.5 Q678.2,173.9 678.2,177.5 V186.5 Q678.2,189.9 674.5,189.9 H663 Q659.6,189.9 659.6,186 V177.5 Q659.6,173.9 663,173.9 Z" stroke="#000" stroke-width="0.9" fill="none" />
<path d="M660,178.2 H666.5 Q670.4,178.2 670.4,181.6 Q670.4,185.1 666.5,185.1 H660" stroke="#000" stroke-width="0.7" fill="none" />
<circle cx="656.6" cy="176.7" r="0.7" fill="#000" stroke="#000" stroke-width="0"/>
<circle cx="656.6" cy="187.1" r="0.7" fill="#000" stroke="#000" stroke-width="0"/>
<rect x="638.8" y="200.6" width="26.2" height="49.8" fill="none" stroke="#000" stroke-width="0.8" />
<ellipse cx="652.4" cy="225.5" rx="11" ry="12" fill="none" stroke="#000" stroke-width="0.8"/>
<circle cx="655" cy="225.5" r="0.9" fill="none" stroke="#000" stroke-width="0.6"/>
<path d="M640,222 H645 M640,228 H645" stroke="#000" stroke-width="0.7" fill="none" />
<path d="M671.5,256.4 A37,37 0 0 1 708.5,219.4 L708.5,256.4" stroke="#000" stroke-width="1.0" fill="none" />
<rect x="667.3" y="250.4" width="4.2" height="6" fill="#fff" stroke="#000" stroke-width="0.8" />
<rect x="708.5" y="250.4" width="5.8" height="6" fill="#fff" stroke="#000" stroke-width="0.8" />
<rect x="714.3" y="259" width="5.8" height="4" fill="#fff" stroke="#000" stroke-width="0.8" />
<path d="M720.1,263 A39.5,39.5 0 0 1 759.6,302.5" stroke="#000" stroke-width="1.0" fill="none" />
<line x1="720.1" y1="263" x2="720.1" y2="302.5" stroke="#000" stroke-width="0.9" />
<rect x="714.1" y="302.3" width="6" height="4" fill="#fff" stroke="#000" stroke-width="0.8" />
<rect x="784.8" y="112.6" width="82.7" height="123.1" fill="none" stroke="#000" stroke-width="0.9" />
<rect x="803.5" y="118.7" width="55.8" height="15" fill="none" stroke="#000" stroke-width="0.8" rx="1.5"/>
<line x1="793" y1="135.2" x2="867.5" y2="135.2" stroke="#000" stroke-width="0.8" />
<line x1="796" y1="142.8" x2="867.5" y2="142.8" stroke="#000" stroke-width="0.8" />
<line x1="784.8" y1="148.8" x2="867.5" y2="148.8" stroke="#000" stroke-width="0.8" />
<path d="M784.8,148.8 L798,133.5 L800,148 Z" stroke="#000" stroke-width="0.8" fill="#fff" />
<path d="M784.8,142.8 L795,136" stroke="#000" stroke-width="0.7" fill="none" />
<line x1="638.8" y1="158.7" x2="784.8" y2="158.7" stroke="#000" stroke-width="0.8" />
<rect x="729.6" y="145" width="28.7" height="26.4" fill="none" stroke="#000" stroke-width="0.8" rx="3"/>
<rect x="729.6" y="143" width="3.4" height="27" fill="#555" stroke="#000" stroke-width="0.5" />
<rect x="755" y="143" width="3.3" height="27" fill="#555" stroke="#000" stroke-width="0.5" />
<path d="M733,166 Q744,170 755,166" stroke="#000" stroke-width="0.7" fill="none" />
<line x1="714.5" y1="193.5" x2="872.9" y2="193.5" stroke="#000" stroke-width="0.9" />
<line x1="716.9" y1="197" x2="723.3" y2="190" stroke="#000" stroke-width="1.6" />
<line x1="720.1" y1="189" x2="720.1" y2="198" stroke="#000" stroke-width="1.2" />
<line x1="781.6" y1="197" x2="788" y2="190" stroke="#000" stroke-width="1.6" />
<line x1="784.8" y1="189" x2="784.8" y2="198" stroke="#000" stroke-width="1.2" />
<line x1="864.3" y1="197" x2="870.7" y2="190" stroke="#000" stroke-width="1.6" />
<line x1="867.5" y1="189" x2="867.5" y2="198" stroke="#000" stroke-width="1.2" />
<text transform="translate(753,190) scale(0.78,1)" font-size="10" text-anchor="middle" font-weight="normal" fill="#000" class="dm">111</text>
<text transform="translate(826,190) scale(0.78,1)" font-size="10" text-anchor="middle" font-weight="normal" fill="#000" class="dm">140</text>
<rect x="720.1" y="306.7" width="146.9" height="35" fill="none" stroke="#000" stroke-width="0.8" />
<line x1="720.1" y1="307.6" x2="867" y2="307.6" stroke="#888" stroke-width="1.2" />
<line x1="720.1" y1="324.6" x2="867" y2="324.6" stroke="#666" stroke-width="0.9" />
<path d="M727.5,310 L725.5,339.2 M731.5,310 L733.5,339.2 M739.25,310 L737.25,339.2 M743.25,310 L745.25,339.2 M751,310 L749,339.2 M755,310 L757,339.2 M762.75,310 L760.75,339.2 M766.75,310 L768.75,339.2 M774.5,310 L772.5,339.2 M778.5,310 L780.5,339.2 M786.25,310 L784.25,339.2 M790.25,310 L792.25,339.2 M798,310 L796,339.2 M802,310 L804,339.2 M809.75,310 L807.75,339.2 M813.75,310 L815.75,339.2 M821.5,310 L819.5,339.2 M825.5,310 L827.5,339.2 M833.25,310 L831.25,339.2 M837.25,310 L839.25,339.2 M845,310 L843,339.2 M849,310 L851,339.2 M856.75,310 L854.75,339.2 M860.75,310 L862.75,339.2 " stroke="#444" stroke-width="0.8" fill="none" />
<path d="M714.5,350 H866 V452.6 H816.3 V401.4 H714.5 Z" stroke="#000" stroke-width="0.9" fill="none" />
<line x1="723" y1="350" x2="723" y2="401.4" stroke="#000" stroke-width="0.8" />
<path d="M723,359.7 H854 Q857,359.7 857,363 V452.6" stroke="#000" stroke-width="0.8" fill="none" />
<path d="M723,365.7 H851 V452.6" stroke="#000" stroke-width="0.8" fill="none" />
<path d="M723,352.3 H860 Q864,352.3 864,356 V452.6" stroke="#000" stroke-width="0.8" fill="none" />
<line x1="765.3" y1="350" x2="765.3" y2="401.4" stroke="#000" stroke-width="0.8" />
<line x1="816.3" y1="350" x2="816.3" y2="401.4" stroke="#000" stroke-width="0.8" />
<line x1="816.3" y1="401.4" x2="851" y2="401.4" stroke="#000" stroke-width="0.8" />
<rect x="742.3" y="417.6" width="53.5" height="36.1" fill="none" stroke="#000" stroke-width="0.9" />
<line x1="683.6" y1="274.5" x2="683.6" y2="529.7" stroke="#000" stroke-width="2.6" />
<path d="M679.6,276.5H687.6M679.6,281H687.6M679.6,285.5H687.6M679.6,290H687.6M679.6,294.5H687.6M679.6,299H687.6M679.6,303.5H687.6M679.6,308H687.6M679.6,312.5H687.6M679.6,317H687.6M679.6,321.5H687.6M679.6,326H687.6M679.6,330.5H687.6M679.6,335H687.6M679.6,339.5H687.6M679.6,344H687.6M679.6,348.5H687.6M679.6,353H687.6M679.6,357.5H687.6M679.6,362H687.6M679.6,366.5H687.6M679.6,371H687.6M679.6,375.5H687.6M679.6,380H687.6M679.6,384.5H687.6M679.6,389H687.6M679.6,393.5H687.6M679.6,398H687.6M679.6,402.5H687.6M679.6,407H687.6M679.6,411.5H687.6M679.6,416H687.6M679.6,420.5H687.6M679.6,425H687.6M679.6,429.5H687.6M679.6,434H687.6M679.6,438.5H687.6M679.6,443H687.6M679.6,447.5H687.6M679.6,452H687.6M679.6,456.5H687.6M679.6,461H687.6M679.6,465.5H687.6M679.6,470H687.6M679.6,474.5H687.6M679.6,479H687.6M679.6,483.5H687.6M679.6,488H687.6M679.6,492.5H687.6M679.6,497H687.6M679.6,501.5H687.6M679.6,506H687.6M679.6,510.5H687.6M679.6,515H687.6M679.6,519.5H687.6M679.6,524H687.6M679.6,528.5H687.6" stroke="#000" stroke-width="1.2" fill="none" />
<rect x="655.7" y="409.5" width="3.6" height="61.5" fill="#fff" stroke="#000" stroke-width="0.9" />
<path d="M680,422 L659.5,440 L680,458" stroke="#000" stroke-width="0.8" fill="none" />
<rect x="654.2" y="335" width="2.7" height="54" fill="#000" stroke="none" stroke-width="0" />
<rect x="653.2" y="562.9" width="122.8" height="34.2" fill="none" stroke="#000" stroke-width="0.9" />
<line x1="653.2" y1="577.9" x2="776" y2="577.9" stroke="#000" stroke-width="0.7" />
<line x1="688.1" y1="562.9" x2="688.1" y2="597.1" stroke="#000" stroke-width="0.8" />
<line x1="723.1" y1="562.9" x2="723.1" y2="597.1" stroke="#000" stroke-width="0.8" />
<line x1="740.6" y1="562.9" x2="740.6" y2="597.1" stroke="#000" stroke-width="0.8" />
<circle cx="697.8" cy="574.3" r="5" fill="none" stroke="#000" stroke-width="0.8"/>
<circle cx="697.8" cy="588.7" r="4" fill="none" stroke="#000" stroke-width="0.8"/>
<rect x="707.4" y="568.2" width="10.1" height="26.5" fill="none" stroke="#000" stroke-width="0.7" rx="2"/>
<line x1="707.4" y1="581.5" x2="717.5" y2="581.5" stroke="#000" stroke-width="0.6" />
<path d="M708.5,574.8 H716.5 M712.5,570.8 V578.8 M709.5,571.8 L715.5,577.8 M715.5,571.8 L709.5,577.8" stroke="#000" stroke-width="0.5" fill="none" />
<path d="M708.5,588 H716.5 M712.5,584 V592 M709.5,585 L715.5,591 M715.5,585 L709.5,591" stroke="#000" stroke-width="0.5" fill="none" />
<rect x="744" y="567" width="28.9" height="27.7" fill="none" stroke="#000" stroke-width="0.8" rx="3"/>
<rect x="653.2" y="594.5" width="122.8" height="3.2" fill="#111" stroke="none" stroke-width="0" />
<rect x="655" y="591.5" width="3.5" height="3.5" fill="#fff" stroke="#000" stroke-width="0.5" />
<rect x="660.4" y="591.5" width="3.5" height="3.5" fill="#fff" stroke="#000" stroke-width="0.5" />
<rect x="665.8" y="591.5" width="3.5" height="3.5" fill="#fff" stroke="#000" stroke-width="0.5" />
<rect x="671.2" y="591.5" width="3.5" height="3.5" fill="#fff" stroke="#000" stroke-width="0.5" />
<rect x="676.6" y="591.5" width="3.5" height="3.5" fill="#fff" stroke="#000" stroke-width="0.5" />
<rect x="682" y="591.5" width="3.5" height="3.5" fill="#fff" stroke="#000" stroke-width="0.5" />
<rect x="776" y="504" width="41.7" height="93.1" fill="none" stroke="#000" stroke-width="0.8" />
<line x1="776" y1="597.1" x2="867.5" y2="597.1" stroke="#000" stroke-width="0.9" />
<line x1="867.5" y1="533" x2="867.5" y2="624.5" stroke="#000" stroke-width="0.9" />
<rect x="805.6" y="514.9" width="29.4" height="26.6" fill="none" stroke="#000" stroke-width="0.9" rx="4"/>
<rect x="807.1" y="513.4" width="26.4" height="2.6" fill="#555" stroke="#000" stroke-width="0.6" />
<rect x="807.1" y="540.4" width="26.4" height="2.6" fill="#555" stroke="#000" stroke-width="0.6" />
<path d="M831,516 Q833.5,528.2 831,540.4" stroke="#000" stroke-width="0.8" fill="none" />
<rect x="805.6" y="557" width="29.4" height="26.6" fill="none" stroke="#000" stroke-width="0.9" rx="4"/>
<rect x="807.1" y="555.5" width="26.4" height="2.6" fill="#555" stroke="#000" stroke-width="0.6" />
<rect x="807.1" y="582.5" width="26.4" height="2.6" fill="#555" stroke="#000" stroke-width="0.6" />
<path d="M831,558.1 Q833.5,570.3 831,582.5" stroke="#000" stroke-width="0.8" fill="none" />
<line x1="648.5" y1="545.8" x2="873" y2="545.8" stroke="#000" stroke-width="0.9" />
<line x1="648.8" y1="549.3" x2="655.2" y2="542.3" stroke="#000" stroke-width="1.6" />
<line x1="652" y1="541.3" x2="652" y2="550.3" stroke="#000" stroke-width="1.2" />
<line x1="772.8" y1="549.3" x2="779.2" y2="542.3" stroke="#000" stroke-width="1.6" />
<line x1="776" y1="541.3" x2="776" y2="550.3" stroke="#000" stroke-width="1.2" />
<line x1="864.3" y1="549.3" x2="870.7" y2="542.3" stroke="#000" stroke-width="1.6" />
<line x1="867.5" y1="541.3" x2="867.5" y2="550.3" stroke="#000" stroke-width="1.2" />
<text transform="translate(714,542.5) scale(0.78,1)" font-size="10" text-anchor="middle" font-weight="normal" fill="#000" class="dm">210</text>
<text transform="translate(821.7,542.5) scale(0.78,1)" font-size="10" text-anchor="middle" font-weight="normal" fill="#000" class="dm">166</text>
<rect x="828.8" y="631.1" width="35.4" height="35.4" fill="none" stroke="#000" stroke-width="0.9" />
<circle cx="846.5" cy="648.8" r="11.5" fill="none" stroke="#000" stroke-width="0.9"/>
<path d="M846.5,648.8 V637.3 M846.5,648.8 L836.5,654.5 M846.5,648.8 L856.5,654.5" stroke="#000" stroke-width="0.9" fill="none" />
<text transform="translate(343.2,119.8)" font-size="8.3" font-weight="bold" fill="#000" textLength="70" lengthAdjust="spacingAndGlyphs">vodilica&#160; za&#160; zavjese</text>
<text transform="translate(232.7,245.6)" font-size="8.1" font-weight="bold" fill="#000" textLength="45.5" lengthAdjust="spacingAndGlyphs">podna/stojeca</text>
<circle cx="271.9" cy="257.7" r="6.2" fill="#fbe0d6" stroke="none" stroke-width="0"/>
<circle cx="271.9" cy="257.7" r="5.2" fill="#f6c0ac" stroke="#d9532f" stroke-width="1.1"/>
<circle cx="271.9" cy="257.7" r="3" fill="#e4552f" stroke="none" stroke-width="0"/>
<text transform="translate(374.9,211.3)" font-size="8.1" font-weight="bold" fill="#000" textLength="20.5" lengthAdjust="spacingAndGlyphs">visilica</text>
<circle cx="396.8" cy="221.8" r="4.3" fill="#fbe3da" stroke="none" stroke-width="0"/>
<circle cx="396.8" cy="221.8" r="3.3" fill="#ee8466" stroke="#cf5030" stroke-width="1.2"/>
<circle cx="396.8" cy="221.8" r="1.1" fill="#d9553a" stroke="none" stroke-width="0"/>
<text transform="translate(508.9,183.1)" font-size="8.1" font-weight="bold" fill="#000" textLength="20.5" lengthAdjust="spacingAndGlyphs">visilica</text>
<circle cx="530.5" cy="192.9" r="4.3" fill="#fbe3da" stroke="none" stroke-width="0"/>
<circle cx="530.5" cy="192.9" r="3.3" fill="#ee8466" stroke="#cf5030" stroke-width="1.2"/>
<circle cx="530.5" cy="192.9" r="1.1" fill="#d9553a" stroke="none" stroke-width="0"/>
<text transform="translate(508.9,209.6)" font-size="8.1" font-weight="bold" fill="#000" textLength="20.5" lengthAdjust="spacingAndGlyphs">visilica</text>
<circle cx="530.5" cy="219.1" r="4.3" fill="#fbe3da" stroke="none" stroke-width="0"/>
<circle cx="530.5" cy="219.1" r="3.3" fill="#ee8466" stroke="#cf5030" stroke-width="1.2"/>
<circle cx="530.5" cy="219.1" r="1.1" fill="#d9553a" stroke="none" stroke-width="0"/>
<text transform="translate(501,242)" font-size="8.1" font-weight="bold" fill="#000" textLength="34.7" lengthAdjust="spacingAndGlyphs">ugrdno&#160; led</text>
<circle cx="531.1" cy="251.8" r="4.3" fill="#fbe3da" stroke="none" stroke-width="0"/>
<circle cx="531.1" cy="251.8" r="3.3" fill="#ee8466" stroke="#cf5030" stroke-width="1.2"/>
<circle cx="531.1" cy="251.8" r="1.1" fill="#d9553a" stroke="none" stroke-width="0"/>
<text transform="translate(550.4,242)" font-size="8.1" font-weight="bold" fill="#000" textLength="32.4" lengthAdjust="spacingAndGlyphs">led/plafon</text>
<circle cx="572.3" cy="251.8" r="4.3" fill="#fbe3da" stroke="none" stroke-width="0"/>
<circle cx="572.3" cy="251.8" r="3.3" fill="#ee8466" stroke="#cf5030" stroke-width="1.2"/>
<circle cx="572.3" cy="251.8" r="1.1" fill="#d9553a" stroke="none" stroke-width="0"/>
<text transform="translate(277.8,433.9)" font-size="8.1" font-weight="bold" fill="#000" textLength="9.6" lengthAdjust="spacingAndGlyphs">led</text>
<circle cx="294.6" cy="443" r="4.3" fill="#fbe3da" stroke="none" stroke-width="0"/>
<circle cx="294.6" cy="443" r="3.3" fill="#ee8466" stroke="#cf5030" stroke-width="1.2"/>
<circle cx="294.6" cy="443" r="1.1" fill="#d9553a" stroke="none" stroke-width="0"/>
<text transform="translate(322,433.9)" font-size="8.1" font-weight="bold" fill="#000" textLength="9.6" lengthAdjust="spacingAndGlyphs">led</text>
<circle cx="338.8" cy="443" r="4.3" fill="#fbe3da" stroke="none" stroke-width="0"/>
<circle cx="338.8" cy="443" r="3.3" fill="#ee8466" stroke="#cf5030" stroke-width="1.2"/>
<circle cx="338.8" cy="443" r="1.1" fill="#d9553a" stroke="none" stroke-width="0"/>
<text transform="translate(365.7,433.9)" font-size="8.1" font-weight="bold" fill="#000" textLength="9.6" lengthAdjust="spacingAndGlyphs">led</text>
<circle cx="382.7" cy="443" r="4.3" fill="#fbe3da" stroke="none" stroke-width="0"/>
<circle cx="382.7" cy="443" r="3.3" fill="#ee8466" stroke="#cf5030" stroke-width="1.2"/>
<circle cx="382.7" cy="443" r="1.1" fill="#d9553a" stroke="none" stroke-width="0"/>
<text transform="translate(410.6,433.9)" font-size="8.1" font-weight="bold" fill="#000" textLength="9.6" lengthAdjust="spacingAndGlyphs">led</text>
<circle cx="426.3" cy="443" r="4.3" fill="#fbe3da" stroke="none" stroke-width="0"/>
<circle cx="426.3" cy="443" r="3.3" fill="#ee8466" stroke="#cf5030" stroke-width="1.2"/>
<circle cx="426.3" cy="443" r="1.1" fill="#d9553a" stroke="none" stroke-width="0"/>
<text transform="translate(426.3,433.9)" font-size="8.1" font-weight="bold" fill="#000" textLength="45.9" lengthAdjust="spacingAndGlyphs">podna/stojeca</text>
<circle cx="435.5" cy="443" r="6.2" fill="#fbe0d6" stroke="none" stroke-width="0"/>
<circle cx="435.5" cy="443" r="5.2" fill="#f6c0ac" stroke="#d9532f" stroke-width="1.1"/>
<circle cx="435.5" cy="443" r="3" fill="#e4552f" stroke="none" stroke-width="0"/>
<text transform="translate(513,364.9)" font-size="8.1" font-weight="bold" fill="#000" textLength="9.6" lengthAdjust="spacingAndGlyphs">led</text>
<circle cx="528.7" cy="346" r="4.3" fill="#fbe3da" stroke="none" stroke-width="0"/>
<circle cx="528.7" cy="346" r="3.3" fill="#ee8466" stroke="#cf5030" stroke-width="1.2"/>
<circle cx="528.7" cy="346" r="1.1" fill="#d9553a" stroke="none" stroke-width="0"/>
<text transform="translate(478.3,491.2) rotate(-90)" font-size="7.4" font-weight="normal" fill="#000" stroke="#000" stroke-width="0.2" textLength="116.5" lengthAdjust="spacingAndGlyphs">PRIJEDLOG&#160; _&#160; šina&#160; s&#160; led&#160; rasvjetom</text>
<text transform="translate(285.4,480.1)" font-size="8.1" font-weight="bold" fill="#000" textLength="65.6" lengthAdjust="spacingAndGlyphs">izvod&#160; za&#160; led&#160; traku?</text>
<text transform="translate(333,490.6)" font-size="8.1" font-weight="bold" fill="#000" textLength="64.5" lengthAdjust="spacingAndGlyphs">izvod&#160; za&#160; led&#160; traku?</text>
<circle cx="412.6" cy="470" r="4.3" fill="#fbe3da" stroke="none" stroke-width="0"/>
<circle cx="412.6" cy="470" r="3.3" fill="#ee8466" stroke="#cf5030" stroke-width="1.2"/>
<circle cx="412.6" cy="470" r="1.1" fill="#d9553a" stroke="none" stroke-width="0"/>
<text transform="translate(313.2,558.8)" font-size="8.1" font-weight="bold" fill="#000" textLength="42" lengthAdjust="spacingAndGlyphs">luster/plafon</text>
<circle cx="335.2" cy="569.3" r="4.3" fill="#fbe3da" stroke="none" stroke-width="0"/>
<circle cx="335.2" cy="569.3" r="3.3" fill="#ee8466" stroke="#cf5030" stroke-width="1.2"/>
<circle cx="335.2" cy="569.3" r="1.1" fill="#d9553a" stroke="none" stroke-width="0"/>
<circle cx="265.7" cy="652" r="4.4" fill="#9a9a9a" stroke="#333" stroke-width="0.9"/>
<circle cx="265.7" cy="652" r="2.4" fill="#bbb" stroke="#444" stroke-width="0.7"/>
<circle cx="266.5" cy="660.6" r="4.3" fill="#fbe3da" stroke="none" stroke-width="0"/>
<circle cx="266.5" cy="660.6" r="3.3" fill="#ee8466" stroke="#cf5030" stroke-width="1.2"/>
<circle cx="266.5" cy="660.6" r="1.1" fill="#d9553a" stroke="none" stroke-width="0"/>
<text transform="translate(279.8,654.7)" font-size="8.1" font-weight="bold" fill="#000" textLength="17.5" lengthAdjust="spacingAndGlyphs">zidna</text>
<circle cx="405.3" cy="652" r="4.4" fill="#9a9a9a" stroke="#333" stroke-width="0.9"/>
<circle cx="405.3" cy="652" r="2.4" fill="#bbb" stroke="#444" stroke-width="0.7"/>
<circle cx="406.1" cy="660.6" r="4.3" fill="#fbe3da" stroke="none" stroke-width="0"/>
<circle cx="406.1" cy="660.6" r="3.3" fill="#ee8466" stroke="#cf5030" stroke-width="1.2"/>
<circle cx="406.1" cy="660.6" r="1.1" fill="#d9553a" stroke="none" stroke-width="0"/>
<text transform="translate(417.5,654.7)" font-size="8.1" font-weight="bold" fill="#000" textLength="17.5" lengthAdjust="spacingAndGlyphs">zidna</text>
<text transform="translate(447.6,614.7)" font-size="8.1" font-weight="bold" fill="#000" textLength="9.6" lengthAdjust="spacingAndGlyphs">led</text>
<circle cx="433.9" cy="596.7" r="4.3" fill="#fbe3da" stroke="none" stroke-width="0"/>
<circle cx="433.9" cy="596.7" r="3.3" fill="#ee8466" stroke="#cf5030" stroke-width="1.2"/>
<circle cx="433.9" cy="596.7" r="1.1" fill="#d9553a" stroke="none" stroke-width="0"/>
<text transform="translate(500,614.7)" font-size="8.1" font-weight="bold" fill="#000" textLength="9.6" lengthAdjust="spacingAndGlyphs">led</text>
<circle cx="485.3" cy="596.7" r="4.3" fill="#fbe3da" stroke="none" stroke-width="0"/>
<circle cx="485.3" cy="596.7" r="3.3" fill="#ee8466" stroke="#cf5030" stroke-width="1.2"/>
<circle cx="485.3" cy="596.7" r="1.1" fill="#d9553a" stroke="none" stroke-width="0"/>
<text transform="translate(600.8,549.3)" font-size="8.1" font-weight="bold" fill="#000" textLength="9.6" lengthAdjust="spacingAndGlyphs">led</text>
<circle cx="586.6" cy="532" r="4.3" fill="#fbe3da" stroke="none" stroke-width="0"/>
<circle cx="586.6" cy="532" r="3.3" fill="#ee8466" stroke="#cf5030" stroke-width="1.2"/>
<circle cx="586.6" cy="532" r="1.1" fill="#d9553a" stroke="none" stroke-width="0"/>
<text transform="translate(600.8,566.6)" font-size="8.1" font-weight="bold" fill="#000" textLength="9.6" lengthAdjust="spacingAndGlyphs">led</text>
<circle cx="586.6" cy="578.6" r="4.3" fill="#fbe3da" stroke="none" stroke-width="0"/>
<circle cx="586.6" cy="578.6" r="3.3" fill="#ee8466" stroke="#cf5030" stroke-width="1.2"/>
<circle cx="586.6" cy="578.6" r="1.1" fill="#d9553a" stroke="none" stroke-width="0"/>
<text transform="translate(577.3,369.8)" font-size="8.1" font-weight="bold" fill="#000" textLength="30" lengthAdjust="spacingAndGlyphs">led&#160; u&#160; niši</text>
<circle cx="625.4" cy="358.1" r="4.3" fill="#fbe3da" stroke="none" stroke-width="0"/>
<circle cx="625.4" cy="358.1" r="3.3" fill="#ee8466" stroke="#cf5030" stroke-width="1.2"/>
<circle cx="625.4" cy="358.1" r="1.1" fill="#d9553a" stroke="none" stroke-width="0"/>
<text transform="translate(601,452)" font-size="8.1" font-weight="bold" fill="#000" textLength="9.6" lengthAdjust="spacingAndGlyphs">led</text>
<circle cx="586.6" cy="434.6" r="4.3" fill="#fbe3da" stroke="none" stroke-width="0"/>
<circle cx="586.6" cy="434.6" r="3.3" fill="#ee8466" stroke="#cf5030" stroke-width="1.2"/>
<circle cx="586.6" cy="434.6" r="1.1" fill="#d9553a" stroke="none" stroke-width="0"/>
<text transform="translate(604,476.5)" font-size="8.1" font-weight="bold" fill="#000" textLength="20.5" lengthAdjust="spacingAndGlyphs">visilica</text>
<circle cx="626.7" cy="486.4" r="4.3" fill="#fbe3da" stroke="none" stroke-width="0"/>
<circle cx="626.7" cy="486.4" r="3.3" fill="#ee8466" stroke="#cf5030" stroke-width="1.2"/>
<circle cx="626.7" cy="486.4" r="1.1" fill="#d9553a" stroke="none" stroke-width="0"/>
<text transform="translate(625.6,455.4) rotate(-90)" font-size="7.4" font-weight="normal" fill="#000" stroke="#000" stroke-width="0.2" textLength="65" lengthAdjust="spacingAndGlyphs">led&#160; traka&#160; u&#160; stropu</text>
<line x1="644.5" y1="378" x2="644.5" y2="496" stroke="#000" stroke-width="0.9" />
<line x1="641" y1="379.8" x2="648" y2="386.2" stroke="#000" stroke-width="1.6" />
<line x1="640" y1="383" x2="649" y2="383" stroke="#000" stroke-width="1.2" />
<line x1="641" y1="486.3" x2="648" y2="492.7" stroke="#000" stroke-width="1.6" />
<line x1="640" y1="489.5" x2="649" y2="489.5" stroke="#000" stroke-width="1.2" />
<text transform="translate(641.5,436) rotate(-90) scale(0.78,1)" font-size="10" text-anchor="middle" font-weight="normal" fill="#000" class="dm">183</text>
<text transform="translate(657.6,153.5)" font-size="8.1" font-weight="bold" fill="#000" textLength="32.5" lengthAdjust="spacingAndGlyphs">led&#160; u&#160; niši</text>
<circle cx="643.3" cy="136.3" r="4.3" fill="#fbe3da" stroke="none" stroke-width="0"/>
<circle cx="643.3" cy="136.3" r="3.3" fill="#ee8466" stroke="#cf5030" stroke-width="1.2"/>
<circle cx="643.3" cy="136.3" r="1.1" fill="#d9553a" stroke="none" stroke-width="0"/>
<text transform="translate(694.3,186.7)" font-size="8.1" font-weight="bold" fill="#000" textLength="9.6" lengthAdjust="spacingAndGlyphs">led</text>
<circle cx="679.5" cy="200" r="4.3" fill="#fbe3da" stroke="none" stroke-width="0"/>
<circle cx="679.5" cy="200" r="3.3" fill="#ee8466" stroke="#cf5030" stroke-width="1.2"/>
<circle cx="679.5" cy="200" r="1.1" fill="#d9553a" stroke="none" stroke-width="0"/>
<text transform="translate(654.6,211)" font-size="8.1" font-weight="bold" fill="#000" textLength="94" lengthAdjust="spacingAndGlyphs">ogledalo&#160; s&#160; ugr.led&#160; rasvjetom</text>
<text transform="translate(777,167.8)" font-size="8.1" font-weight="bold" fill="#000" textLength="9.6" lengthAdjust="spacingAndGlyphs">led</text>
<circle cx="793.9" cy="178" r="4.3" fill="#fbe3da" stroke="none" stroke-width="0"/>
<circle cx="793.9" cy="178" r="3.3" fill="#ee8466" stroke="#cf5030" stroke-width="1.2"/>
<circle cx="793.9" cy="178" r="1.1" fill="#d9553a" stroke="none" stroke-width="0"/>
<text transform="translate(793,210.6)" font-size="8.8" font-weight="bold" fill="#000" textLength="50.3" lengthAdjust="spacingAndGlyphs">krevet&#160; 140*200</text>
<text transform="translate(777,248.4)" font-size="8.1" font-weight="bold" fill="#000" textLength="9.6" lengthAdjust="spacingAndGlyphs">led</text>
<circle cx="793.9" cy="258" r="4.3" fill="#fbe3da" stroke="none" stroke-width="0"/>
<circle cx="793.9" cy="258" r="3.3" fill="#ee8466" stroke="#cf5030" stroke-width="1.2"/>
<circle cx="793.9" cy="258" r="1.1" fill="#d9553a" stroke="none" stroke-width="0"/>
<text transform="translate(735.6,465.5)" font-size="8.1" font-weight="bold" fill="#000" textLength="54.5" lengthAdjust="spacingAndGlyphs">visilica-centralna</text>
<circle cx="757.6" cy="475" r="4.3" fill="#fbe3da" stroke="none" stroke-width="0"/>
<circle cx="757.6" cy="475" r="3.3" fill="#ee8466" stroke="#cf5030" stroke-width="1.2"/>
<circle cx="757.6" cy="475" r="1.1" fill="#d9553a" stroke="none" stroke-width="0"/>
<text transform="translate(820.3,452.5)" font-size="8.1" font-weight="bold" fill="#000" textLength="45.9" lengthAdjust="spacingAndGlyphs">podna/stojeca</text>
<circle cx="858.6" cy="463.7" r="6.2" fill="#fbe0d6" stroke="none" stroke-width="0"/>
<circle cx="858.6" cy="463.7" r="5.2" fill="#f6c0ac" stroke="#d9532f" stroke-width="1.1"/>
<circle cx="858.6" cy="463.7" r="3" fill="#e4552f" stroke="none" stroke-width="0"/>
<text transform="translate(697.5,463) rotate(-90)" font-size="7.4" font-weight="normal" fill="#000" stroke="#000" stroke-width="0.2" textLength="118" lengthAdjust="spacingAndGlyphs">PRIJEDLOG&#160; _&#160; šina&#160; s&#160; led&#160; rasvjetom</text>
<text transform="translate(666,431.2) rotate(-90)" font-size="7.4" font-weight="normal" fill="#000" stroke="#000" stroke-width="0.2" textLength="65.7" lengthAdjust="spacingAndGlyphs">izvod&#160; za&#160; led&#160; traku?</text>
<text transform="translate(613,307.5) rotate(-90)" font-size="10" font-weight="normal" fill="#000" stroke="#000" stroke-width="0.3" textLength="92.5" lengthAdjust="spacingAndGlyphs">led&#160; traka&#160; ispod&#160; gornjih</text>
<text transform="translate(623.8,307.5) rotate(-90)" font-size="10" font-weight="normal" fill="#000" stroke="#000" stroke-width="0.3" textLength="103.5" lengthAdjust="spacingAndGlyphs">elemenata&#160; kuhinje&#160; l=260</text>
<text transform="translate(654,641.4)" font-size="10.2" font-weight="normal" fill="#000" stroke="#000" stroke-width="0.3" textLength="94.5" lengthAdjust="spacingAndGlyphs">led&#160; traka&#160; ispod&#160; gornjih</text>
<text transform="translate(654,653)" font-size="10.2" font-weight="normal" fill="#000" stroke="#000" stroke-width="0.3" textLength="102" lengthAdjust="spacingAndGlyphs">elemenata&#160; kuhinje&#160; l=210</text>
<line x1="268.3" y1="247.3" x2="271.9" y2="257.7" stroke="#000" stroke-width="1.0" />
<line x1="389" y1="213" x2="396.8" y2="221.8" stroke="#000" stroke-width="1.0" />
<line x1="523" y1="185" x2="530.5" y2="192.9" stroke="#000" stroke-width="1.0" />
<line x1="523" y1="211.5" x2="530.5" y2="219.1" stroke="#000" stroke-width="1.0" />
<line x1="525" y1="242.5" x2="531.1" y2="251.8" stroke="#000" stroke-width="1.0" />
<line x1="565.5" y1="243" x2="572.3" y2="251.8" stroke="#000" stroke-width="1.0" />
<line x1="286.3" y1="435" x2="294.6" y2="443" stroke="#000" stroke-width="1.0" />
<line x1="330.5" y1="435" x2="338.8" y2="443" stroke="#000" stroke-width="1.0" />
<line x1="374.2" y1="435" x2="382.7" y2="443" stroke="#000" stroke-width="1.0" />
<line x1="419.1" y1="435" x2="426.3" y2="443" stroke="#000" stroke-width="1.0" />
<line x1="443" y1="435" x2="435.5" y2="443" stroke="#000" stroke-width="1.0" />
<line x1="521" y1="357" x2="528.7" y2="346" stroke="#000" stroke-width="1.0" />
<line x1="272" y1="462.5" x2="284" y2="475" stroke="#000" stroke-width="1.0" />
<line x1="335" y1="484" x2="324.7" y2="496.5" stroke="#000" stroke-width="1.0" />
<line x1="345" y1="484" x2="359" y2="497" stroke="#000" stroke-width="1.0" />
<line x1="412.6" y1="470" x2="399" y2="487" stroke="#000" stroke-width="1.0" />
<line x1="329" y1="560" x2="335.2" y2="569.3" stroke="#000" stroke-width="1.0" />
<line x1="271.8" y1="657.5" x2="278.8" y2="653" stroke="#000" stroke-width="1.0" />
<line x1="409.5" y1="657.5" x2="416.5" y2="653" stroke="#000" stroke-width="1.0" />
<line x1="433.9" y1="596.7" x2="446" y2="607" stroke="#000" stroke-width="1.0" />
<line x1="485.3" y1="596.7" x2="498" y2="607" stroke="#000" stroke-width="1.0" />
<line x1="586.6" y1="532" x2="599" y2="543" stroke="#000" stroke-width="1.0" />
<line x1="586.6" y1="578.6" x2="599" y2="568.5" stroke="#000" stroke-width="1.0" />
<line x1="609.7" y1="364.8" x2="625.4" y2="358.1" stroke="#000" stroke-width="1.0" />
<line x1="586.6" y1="434.6" x2="600" y2="445" stroke="#000" stroke-width="1.0" />
<line x1="619" y1="478" x2="626.7" y2="486.4" stroke="#000" stroke-width="1.0" />
<line x1="643.3" y1="136.3" x2="657" y2="148" stroke="#000" stroke-width="1.0" />
<line x1="692" y1="188.5" x2="679.5" y2="200" stroke="#000" stroke-width="1.0" />
<line x1="656" y1="205.5" x2="639" y2="219.3" stroke="#000" stroke-width="1.0" />
<line x1="786" y1="169.5" x2="793.9" y2="178" stroke="#000" stroke-width="1.0" />
<line x1="786" y1="250" x2="793.9" y2="258" stroke="#000" stroke-width="1.0" />
<line x1="749" y1="467" x2="757.6" y2="475" stroke="#000" stroke-width="1.0" />
<line x1="853" y1="454" x2="858.6" y2="463.7" stroke="#000" stroke-width="1.0" />
<line x1="655.5" y1="361" x2="665.5" y2="372" stroke="#000" stroke-width="1.0" />
<line x1="701" y1="624.9" x2="699" y2="631" stroke="#000" stroke-width="1.0" />
</svg>
</body></html>
